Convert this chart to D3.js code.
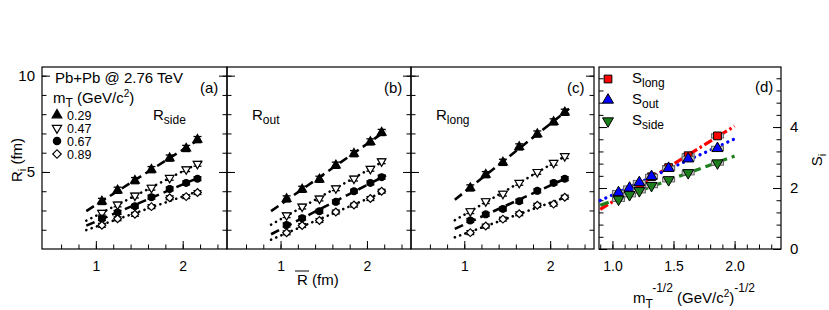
<!DOCTYPE html>
<html>
<head>
<meta charset="utf-8">
<script src="https://cdn.jsdelivr.net/npm/d3@7"></script>
<style>
body { margin: 0; background: #fff; }
text { font-family: "Liberation Sans", Arial, sans-serif; fill: #000; }
</style>
</head>
<body>
<script>
// radii vs Rbar, one row per mT bin
var mtLabels = ["0.29", "0.47", "0.67", "0.89"];
var rBar = [1.07, 1.25, 1.45, 1.64, 1.85, 2.04, 2.17];

var rSide = [
    [3.47, 4.05, 4.55, 5.12, 5.72, 6.22, 6.68],
    [2.88, 3.31, 3.77, 4.18, 4.69, 5.14, 5.42],
    [2.58, 2.90, 3.22, 3.69, 4.12, 4.43, 4.65],
    [2.23, 2.57, 2.80, 3.20, 3.66, 3.72, 3.93]
];
var rOut = [
    [3.60, 4.10, 4.62, 5.35, 5.95, 6.56, 7.05],
    [2.75, 3.20, 3.62, 4.15, 4.65, 5.16, 5.55],
    [2.25, 2.60, 2.96, 3.45, 4.00, 4.43, 4.73],
    [1.84, 2.22, 2.48, 2.92, 3.28, 3.62, 4.00]
];
var rLong = [
    [4.17, 4.86, 5.50, 6.30, 6.97, 7.60, 8.10],
    [2.96, 3.48, 3.87, 4.43, 5.00, 5.47, 5.82],
    [2.48, 2.80, 3.08, 3.48, 4.02, 4.43, 4.65],
    [1.85, 2.19, 2.55, 2.83, 3.27, 3.33, 3.69]
];
var rErr = [0.16, 0.12, 0.10, 0.10];

// slopes vs mT^-1/2
var mtInv = [1.05, 1.14, 1.22, 1.32, 1.46, 1.62, 1.86];
var sLong = [1.70, 1.90, 2.05, 2.37, 2.67, 3.06, 3.71];
var sOut  = [1.85, 2.00, 2.18, 2.38, 2.65, 2.96, 3.30];
var sSide = [1.63, 1.78, 1.91, 2.08, 2.27, 2.50, 2.82];
var sSys = 0.07;

var svg = d3.select("body").append("svg").attr("width", 829).attr("height", 310);

var plotTop = 67, plotBottom = 249;

function fit(xs, ys) {
    var mx = d3.mean(xs), my = d3.mean(ys);
    var sxy = d3.sum(xs, (x, i) => (x - mx) * (ys[i] - my));
    var sxx = d3.sum(xs, x => (x - mx) * (x - mx));
    var b = sxy / sxx;
    return x => my + b * (x - mx);
}

function styleTicks(sel, size) {
    sel.select(".domain").remove();
    sel.attr("font-family", null);
    sel.selectAll("line").attr("stroke", "#000");
    sel.selectAll("text").attr("font-size", size).attr("fill", "#000");
}

var yR = d3.scaleLinear().domain([1, 10.45]).range([plotBottom, plotTop]);

var panels = [
    { x0: 42, x1: 227, data: rSide, tag: "(a)", sub: "side" },
    { x0: 227, x1: 411, data: rOut, tag: "(b)", sub: "out" },
    { x0: 411, x1: 594, data: rLong, tag: "(c)", sub: "long" }
];

// diamond = square turned by 45 degrees
var shapes = [d3.symbolTriangle, d3.symbolTriangle, d3.symbolCircle, d3.symbolSquare];
var shapeRot = [0, 180, 0, 45];
var shapeFill = ["#000", "#fff", "#000", "#fff"];
var shapeSize = [34, 32, 36, 30];
var dashes = ["9,5", "0.1,5.5", "9,5", "0.1,5.5"];

panels.forEach(function(p, pi) {
    var x = d3.scaleLinear().domain([0.38, 2.51]).range([p.x0, p.x1]);
    var g = svg.append("g");

    // ticks
    g.append("g").attr("transform", "translate(0," + plotBottom + ")")
        .call(d3.axisBottom(x).tickValues(d3.range(0.6, 2.5, 0.2)).tickSize(-4.5).tickFormat(""))
        .call(styleTicks, 14);
    g.append("g").attr("transform", "translate(0," + plotBottom + ")")
        .call(d3.axisBottom(x).tickValues([1, 2]).tickSize(-8).tickPadding(12).tickFormat(d3.format("d")))
        .call(styleTicks, 14);
    [p.x0, p.x1].forEach(function(xx, side) {
        var ax = side === 0 ? d3.axisLeft : d3.axisRight;
        g.append("g").attr("transform", "translate(" + xx + ",0)")
            .call(ax(yR).tickValues(d3.range(2, 10.5, 1)).tickSize(-4.5).tickFormat(""))
            .call(styleTicks, 14);
        g.append("g").attr("transform", "translate(" + xx + ",0)")
            .call(ax(yR).tickValues([5, 10]).tickSize(-8).tickPadding(7)
                .tickFormat(pi === 0 && side === 0 ? d3.format("d") : ""))
            .call(styleTicks, 15);
    });

    g.append("rect").attr("x", p.x0).attr("y", plotTop)
        .attr("width", p.x1 - p.x0).attr("height", plotBottom - plotTop)
        .attr("fill", "none").attr("stroke", "#000").attr("stroke-width", 1.2);

    // fit lines
    p.data.forEach(function(ys, k) {
        var f = fit(rBar, ys);
        g.append("path")
            .datum([0.89, 2.22])
            .attr("d", d3.line().x(d => x(d)).y(d => yR(f(d))))
            .attr("fill", "none").attr("stroke", "#000").attr("stroke-width", 2.6)
            .attr("stroke-linecap", k % 2 ? "round" : "butt")
            .attr("stroke-dasharray", dashes[k]);
    });

    // points with error bars
    p.data.forEach(function(ys, k) {
        var pts = rBar.map((d, i) => ({ x: d, y: ys[i] }));
        var eb = g.append("g").selectAll("g").data(pts).enter().append("g")
            .attr("stroke", "#000").attr("stroke-width", 1.3);
        eb.append("line").attr("x1", d => x(d.x)).attr("x2", d => x(d.x))
            .attr("y1", d => yR(d.y - rErr[k])).attr("y2", d => yR(d.y + rErr[k]));
        [-1, 1].forEach(function(s) {
            eb.append("line").attr("x1", d => x(d.x) - 4).attr("x2", d => x(d.x) + 4)
                .attr("y1", d => yR(d.y + s * rErr[k])).attr("y2", d => yR(d.y + s * rErr[k]));
        });
        g.append("g").selectAll("path").data(pts).enter().append("path")
            .attr("d", d3.symbol().type(shapes[k]).size(shapeSize[k]))
            .attr("transform", d => "translate(" + x(d.x) + "," + yR(d.y) + ") rotate(" + shapeRot[k] + ")")
            .attr("fill", shapeFill[k]).attr("stroke", "#000").attr("stroke-width", 1.2);
    });

    g.append("text").attr("x", p.x1 - 27).attr("y", 93).attr("font-size", 15).text(p.tag);
    var lab = g.append("text").attr("x", pi === 0 ? 153 : p.x0 + 25).attr("y", 120).attr("font-size", 15);
    lab.append("tspan").text("R");
    lab.append("tspan").attr("font-size", 12).attr("dy", 4).text(p.sub);
});

// legend of panel (a)
svg.append("text").attr("x", 55).attr("y", 83).attr("font-size", 15).text("Pb+Pb @ 2.76 TeV");
var mtTitle = svg.append("text").attr("x", 53).attr("y", 103).attr("font-size", 15);
mtTitle.append("tspan").text("m");
mtTitle.append("tspan").attr("font-size", 12).attr("dy", 4).text("T");
mtTitle.append("tspan").attr("dy", -4).text(" (GeV/c");
mtTitle.append("tspan").attr("font-size", 10).attr("dy", -6).text("2");
mtTitle.append("tspan").attr("dy", 6).text(")");
mtLabels.forEach(function(m, k) {
    var yy = [115, 128, 141, 154][k];
    svg.append("path")
        .attr("d", d3.symbol().type(shapes[k]).size(shapeSize[k] + 6)())
        .attr("transform", "translate(57," + yy + ") rotate(" + shapeRot[k] + ")")
        .attr("fill", shapeFill[k]).attr("stroke", "#000").attr("stroke-width", 1.2);
    svg.append("text").attr("x", 67).attr("y", yy + 4.5).attr("font-size", 12.5).text(m);
});

// axis titles for (a)-(c)
var yt = svg.append("text").attr("transform", "translate(22,160) rotate(-90)")
    .attr("text-anchor", "middle").attr("font-size", 15);
yt.append("tspan").text("R");
yt.append("tspan").attr("font-size", 11).attr("dy", 4).text("i");
yt.append("tspan").attr("dy", -4).text(" (fm)");

svg.append("text").attr("x", 297).attr("y", 285).attr("font-size", 15).text("R (fm)");
svg.append("line").attr("x1", 295).attr("x2", 309).attr("y1", 271).attr("y2", 271)
    .attr("stroke", "#000").attr("stroke-width", 1);

// panel (d)
var xd = d3.scaleLinear().domain([0.89, 2.38]).range([599, 781]);
var yd = d3.scaleLinear().domain([0, 5.97]).range([plotBottom, plotTop]);
var gd = svg.append("g");

gd.append("g").attr("transform", "translate(0," + plotBottom + ")")
    .call(d3.axisBottom(xd).tickValues(d3.range(0.9, 2.35, 0.1)).tickSize(-4.5).tickFormat(""))
    .call(styleTicks, 14);
gd.append("g").attr("transform", "translate(0," + plotBottom + ")")
    .call(d3.axisBottom(xd).tickValues([1, 1.5, 2]).tickSize(-8).tickPadding(12).tickFormat(d3.format(".1f")))
    .call(styleTicks, 14);
gd.append("g").attr("transform", "translate(599,0)")
    .call(d3.axisLeft(yd).tickValues(d3.range(0, 5.9, 0.4)).tickSize(-4.5).tickFormat(""))
    .call(styleTicks, 14);
gd.append("g").attr("transform", "translate(599,0)")
    .call(d3.axisLeft(yd).tickValues([0, 2, 4]).tickSize(-8).tickFormat(""))
    .call(styleTicks, 14);
gd.append("g").attr("transform", "translate(781,0)")
    .call(d3.axisRight(yd).tickValues(d3.range(0, 5.9, 0.4)).tickSize(-4.5).tickFormat(""))
    .call(styleTicks, 14);
gd.append("g").attr("transform", "translate(781,0)")
    .call(d3.axisRight(yd).tickValues([0, 2, 4]).tickSize(-8).tickPadding(9).tickFormat(d3.format("d")))
    .call(styleTicks, 15);

gd.append("rect").attr("x", 599).attr("y", plotTop).attr("width", 182).attr("height", plotBottom - plotTop)
    .attr("fill", "none").attr("stroke", "#000").attr("stroke-width", 1.2);

var sSeries = [
    { ys: sLong, color: "#ff0000", shape: d3.symbolSquare, rot: 0, size: 60, dash: "9,3,2.5,3", cap: "butt", label: "long", ly: 79 },
    { ys: sOut, color: "#0000ff", shape: d3.symbolTriangle, rot: 0, size: 52, dash: "0.1,6", cap: "round", label: "out", ly: 100 },
    { ys: sSide, color: "#1c7f1c", shape: d3.symbolTriangle, rot: 180, size: 52, dash: "9,5", cap: "butt", label: "side", ly: 121 }
];

sSeries.forEach(function(s) {
    var f = fit(mtInv, s.ys);
    gd.append("path").datum([0.9, 2.0])
        .attr("d", d3.line().x(d => xd(d)).y(d => yd(f(d))))
        .attr("fill", "none").attr("stroke", s.color).attr("stroke-width", 3.2)
        .attr("stroke-linecap", s.cap).attr("stroke-dasharray", s.dash);
});

sSeries.forEach(function(s) {
    var pts = mtInv.map((d, i) => ({ x: d, y: s.ys[i] }));
    gd.append("g").selectAll("rect").data(pts).enter().append("rect")
        .attr("x", d => xd(d.x) - 6).attr("width", 12)
        .attr("y", d => yd(d.y + sSys)).attr("height", d => yd(d.y - sSys) - yd(d.y + sSys))
        .attr("fill", "#c8c8c8").attr("stroke", "#666").attr("stroke-width", 1);
    gd.append("g").selectAll("path").data(pts).enter().append("path")
        .attr("d", d3.symbol().type(s.shape).size(s.size))
        .attr("transform", d => "translate(" + xd(d.x) + "," + yd(d.y) + ") rotate(" + s.rot + ")")
        .attr("fill", s.color).attr("stroke", "#000").attr("stroke-width", 1);

    gd.append("path").attr("d", d3.symbol().type(s.shape).size(s.size)())
        .attr("transform", "translate(608," + s.ly + ") rotate(" + s.rot + ")")
        .attr("fill", s.color).attr("stroke", "#000").attr("stroke-width", 1);
    var t = gd.append("text").attr("x", 632).attr("y", s.ly + 4).attr("font-size", 15);
    t.append("tspan").text("S");
    t.append("tspan").attr("font-size", 12).attr("dy", 4).text(s.label);
});

gd.append("text").attr("x", 755).attr("y", 92).attr("font-size", 15).text("(d)");

var st = svg.append("text").attr("transform", "translate(822,160) rotate(-90)")
    .attr("text-anchor", "middle").attr("font-size", 15);
st.append("tspan").text("S");
st.append("tspan").attr("font-size", 11).attr("dy", 4).text("i");

var xt = svg.append("text").attr("x", 633).attr("y", 303).attr("font-size", 15);
xt.append("tspan").text("m");
xt.append("tspan").attr("font-size", 12).attr("dy", 5).text("T");
xt.append("tspan").attr("font-size", 12).attr("dy", -16).text("-1/2");
xt.append("tspan").attr("dy", 11).text(" (GeV/c");
xt.append("tspan").attr("font-size", 10).attr("dy", -6).text("2");
xt.append("tspan").attr("dy", 6).text(")");
xt.append("tspan").attr("font-size", 12).attr("dy", -11).text("-1/2");
</script>
</body>
</html>
